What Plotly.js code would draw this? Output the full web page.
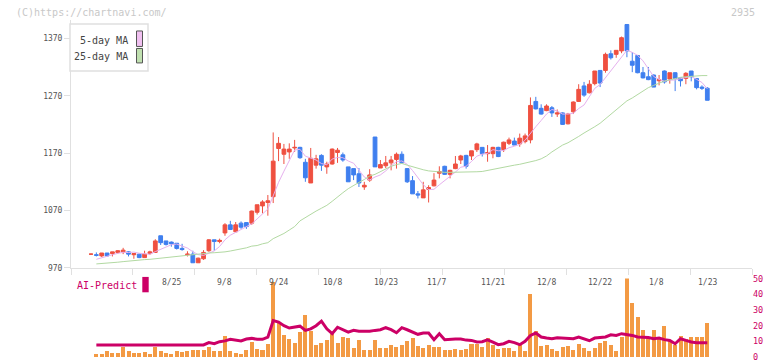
<!DOCTYPE html>
<html><head><meta charset="utf-8">
<script src="https://cdn.plot.ly/plotly-3.0.1.min.js"></script>
<style>html,body{margin:0;padding:0;background:#fff;}#chart{width:772px;height:361px;}</style>
</head><body><div id="chart"></div>
<script>
// ---- data ----
const openP = [994,993,991,996,995,997,998,998,993,994,
988,995,997,1026,1017,1015,1013,1004,993,994,
979,986,1000,1019,1016,1031,1045,1033,1048,1049,
1048,1067,1078,1084,1094,1178,1168,1172,1179,1180,
1154,1118,1149,1166,1146,1151,1171,1167,1146,1143,
1134,1111,1123,1198,1144,1148,1153,1159,1168,1143,
1122,1099,1092,1107,1113,1135,1147,1133,1143,1158,
1166,1165,1176,1180,1169,1169,1180,1176,1187,1191,
1186,1190,1193,1260,1248,1244,1249,1238,1240,1221,
1242,1260,1287,1275,1291,1314,1314,1343,1342,1348,
1394,1330,1340,1310,1303,1306,1296,1313,1299,1310,
1301,1300,1313,1300,1285,1283];
const highP = [995,997,996,996,998,1001,1005,999,995,995,
1000,1000,1020,1026,1017,1016,1013,1012,999,1000,
988,1001,1020,1019,1021,1048,1052,1050,1051,1049,
1070,1080,1088,1097,1206,1198,1186,1187,1193,1181,
1160,1179,1167,1168,1155,1178,1179,1171,1146,1143,
1144,1120,1142,1198,1158,1165,1165,1171,1173,1144,
1130,1104,1120,1114,1135,1147,1148,1141,1165,1167,
1167,1174,1188,1180,1184,1181,1181,1190,1197,1197,
1204,1204,1267,1268,1255,1255,1252,1246,1241,1240,
1260,1290,1294,1297,1313,1314,1345,1349,1349,1373,
1394,1346,1341,1320,1320,1307,1306,1314,1310,1311,
1301,1311,1313,1300,1288,1285];
const lowP = [993,990,989,990,990,995,994,990,986,987,
988,993,996,1010,1009,1007,1002,1000,990,979,
979,984,998,1000,1013,1026,1036,1031,1038,1038,
1045,1063,1065,1061,1083,1156,1151,1160,1172,1160,
1120,1118,1143,1139,1134,1150,1153,1155,1120,1123,
1111,1106,1120,1146,1144,1144,1140,1143,1152,1118,
1099,1091,1092,1084,1112,1126,1132,1126,1142,1151,
1143,1158,1172,1164,1155,1161,1163,1172,1184,1184,
1181,1187,1187,1246,1237,1243,1233,1233,1219,1220,
1238,1259,1268,1274,1288,1285,1310,1333,1336,1344,
1337,1311,1309,1300,1297,1285,1288,1291,1291,1278,
1286,1290,1295,1281,1280,1262];
const closeP = [994,992,996,991,998,1000,1001,994,995,988,
994,998,1017,1014,1011,1012,1004,1002,994,979,
987,997,1019,1016,1018,1045,1037,1045,1041,1042,
1069,1080,1085,1087,1156,1187,1177,1177,1180,1162,
1127,1161,1160,1149,1151,1177,1175,1158,1120,1132,
1118,1114,1132,1146,1150,1153,1158,1168,1153,1120,
1099,1097,1106,1110,1123,1138,1133,1140,1151,1165,
1147,1174,1186,1169,1171,1180,1164,1189,1193,1184,
1196,1200,1253,1247,1238,1252,1240,1240,1220,1238,
1259,1281,1271,1290,1313,1292,1342,1336,1349,1371,
1348,1323,1310,1301,1298,1285,1298,1294,1310,1300,
1296,1309,1303,1284,1283,1262];
const ma5 = [null,985,988,990.5,993,995.4,997.2,996.8,997.6,995.6,
994.4,993.8,998.4,1002.2,1006.8,1010.4,1011.6,1008.6,1004.6,998.2,
993.2,991.8,995.2,999.6,1007.4,1019,1027,1032.2,1037.2,1042,
1046.8,1055.4,1063.4,1072.6,1095.4,1119,1138.4,1156.8,1175.4,1176.6,
1164.6,1161.4,1158,1151.8,1149.6,1159.6,1162.4,1162,1156.2,1152.4,
1140.6,1128.4,1123.2,1128.4,1132,1139,1147.8,1155,1156.4,1150.4,
1139.6,1127.4,1115,1106.4,1107,1114.8,1122,1128.8,1137,1145.4,
1147.2,1155.4,1164.6,1168.2,1169.4,1176,1174,1174.6,1179.4,1182,
1185.2,1192.4,1205.2,1216,1226.8,1238,1246,1243.4,1238,1238,
1239.4,1247.6,1253.8,1267.8,1282.8,1289.4,1301.6,1314.6,1326.4,1338,
1349.2,1345.4,1340.2,1330.6,1316,1303.4,1298.4,1295.2,1297,1297.4,
1299.6,1301.8,1303.6,1298.4,1293,1282];
const ma25 = [null,977,977.5,978,979,980,981,982,983.5,984,
984.5,985,986,987,988.5,989.5,991,992,993,994,
994.5,995.5,996,996.5,997,998,999.5,1001,1003,1005,
1008,1009,1012,1014,1021,1025,1030,1036,1042,1052,
1058,1063,1069,1074,1079,1086,1094,1101,1108,1114,
1119,1124,1130,1133,1138,1142,1147,1150,1152,1149,
1146,1143,1141,1139,1138,1137,1136.5,1136.5,1136.5,1136.5,
1136.5,1137,1137.5,1138,1140,1141.5,1144,1145.5,1147,1149,
1150.5,1152.5,1155,1157,1160,1165,1172,1178,1184,1188,
1193,1199,1205,1210,1216,1222,1230,1237,1245,1253,
1261,1266,1272,1278,1284,1288,1292,1295.5,1297.5,1300,
1302,1303,1304,1305,1305,1305];
const aiBars = [null,2.2,2.2,4.1,2.9,2.9,6.6,4.1,2.9,2.9,
3.5,2.2,6.6,4.1,2.9,2.2,4.1,3.5,4.1,4.7,
4.7,4.5,6.6,4.1,4.1,13.6,4.1,2.9,2.2,4.7,
9.8,5.4,4.7,8.5,47.6,21.8,14.2,11.7,9.2,16.1,
26.9,16.7,7.8,9.2,11.1,14.9,9.2,13,12.4,6,
11.1,4.7,4.7,11.1,6,6,7.8,6.6,7.8,10.5,
12.4,7.2,6,7.8,6.6,6.6,4.7,4.7,5.4,4.7,
5.4,8.5,8.5,6.6,12.4,7.8,5.4,6,6,4.1,
8.5,4.1,40.2,16.3,7.2,7.8,5.4,4.1,6.6,7.2,
4.7,8.5,6,4.1,6,9.2,10.5,7.8,4.1,13,
50.3,34.5,25.6,17.4,13,17.4,12.4,19.9,10.5,7.8,
13.6,11.7,13,13,13,21.8];
const aiLine = [null,7.7,7.7,7.7,7.7,7.7,7.7,7.7,7.7,7.7,
7.7,7.7,7.7,7.7,7.7,7.7,7.7,7.7,7.7,7.7,
7.7,7.7,9.2,8.5,9.8,10.3,11.3,10.9,10.3,11.5,
11.9,11.3,11.3,12.7,23.3,22.3,20,18.5,19.1,19.7,
17,18,20,22.9,18,14.9,19,17.5,15.9,17,
16.4,16.4,16.4,17,17.4,18.7,17.5,15.5,18.7,17.4,
15.9,14.5,15.3,15.3,11.1,14.9,11.1,11.5,11.5,11.5,
10.8,10.6,9.6,9.8,11,9.5,7.9,8.5,10,9.2,
7.9,10,13.8,15.3,12.8,12.1,11.7,12.3,12.1,11.9,
11.7,12.8,11.5,10.4,12.1,12.5,12.8,14.2,13.8,14.9,
14.5,13.8,12.8,12.8,12.4,11.7,12.1,11.1,10.6,8.5,
11.7,10.6,9.6,9.2,9.2,9.2];
const dateLabels = ['8/25','9/8','9/24','10/8','10/23','11/7','11/21','12/8','12/22','1/8','1/23'];
const dateLabelPos = [15,25,35,45,55,64.5,75,85,95,105.5,115];
const priceTicks = [970,1070,1170,1270,1370];
const aiTicks = [0,10,20,30,40,50];

// ---- layout helpers (pixel -> paper) ----
const L = 71, R = 752, T = 20, B = 358.5;
const px = x => (x - L) / (R - L);
const py = y => (B - y) / (B - T);
const idx = closeP.map((_, i) => i);
const xMin = -3.73, xMax = 123.34;
const xTicks = [];
for (let k = 0; k <= 11; k++) xTicks.push(xMin + k * (xMax - xMin) / 11);

const RED = '#ef5040', BLUE = '#3f7fef';
const FONT = 'DejaVu Sans Mono';

const traces = [
  {type:'candlestick', x: idx, open: openP, high: highP, low: lowP, close: closeP,
   xaxis:'x', yaxis:'y', whiskerwidth: 0, hoverinfo:'skip',
   increasing:{line:{color:RED, width:1}, fillcolor:RED},
   decreasing:{line:{color:BLUE, width:1}, fillcolor:BLUE}},
  {type:'scatter', mode:'lines', x: idx, y: ma5, xaxis:'x', yaxis:'y',
   line:{color:'#e6b0ee', width:1}, hoverinfo:'skip'},
  {type:'scatter', mode:'lines', x: idx, y: ma25, xaxis:'x', yaxis:'y',
   line:{color:'#b2d9a2', width:1}, hoverinfo:'skip'},
  {type:'bar', x: idx, y: aiBars, xaxis:'x2', yaxis:'y2', width: 0.75,
   marker:{color:'#f39a44', line:{width:0}}, hoverinfo:'skip'},
  {type:'scatter', mode:'lines', x: idx, y: aiLine, xaxis:'x2', yaxis:'y2',
   line:{color:'#cc0066', width:3}, hoverinfo:'skip'}
];

const annotations = [
  {xref:'paper', yref:'paper', x:px(14), y:py(12.5), xanchor:'left', yanchor:'middle',
   text:'(C)https://chartnavi.com/', showarrow:false, font:{family:FONT, size:10, color:'#c8c8c8'}},
  {xref:'paper', yref:'paper', x:px(757), y:py(12.5), xanchor:'right', yanchor:'middle',
   text:'2935', showarrow:false, font:{family:FONT, size:10, color:'#c8c8c8'}},
  {xref:'paper', yref:'paper', x:px(130), y:py(41), xanchor:'right', yanchor:'middle',
   text:'5-day MA', showarrow:false, font:{family:FONT, size:10, color:'#444'}},
  {xref:'paper', yref:'paper', x:px(130), y:py(57), xanchor:'right', yanchor:'middle',
   text:'25-day MA', showarrow:false, font:{family:FONT, size:10, color:'#444'}},
  {xref:'paper', yref:'paper', x:px(75), y:py(286), xanchor:'left', yanchor:'middle',
   text:'AI-Predict', showarrow:false, font:{family:FONT, size:10, color:'#cc0066'}}
];
dateLabels.forEach((t, k) => annotations.push({
  xref:'x', yref:'paper', x: dateLabelPos[k], y: py(282.5), xanchor:'center', yanchor:'middle',
  text: t, showarrow:false, font:{family:FONT, size:8, color:'#555'}}));

const shapes = [
  {type:'rect', xref:'paper', yref:'paper', x0:px(70), x1:px(148), y0:py(71), y1:py(24),
   line:{color:'#e0e0e0', width:1.5}, fillcolor:'#fff', layer:'above'},
  {type:'rect', xref:'paper', yref:'paper', x0:px(136.5), x1:px(142.5), y0:py(46.5), y1:py(31),
   line:{color:'#555', width:1}, fillcolor:'#f0c0f0', layer:'above'},
  {type:'rect', xref:'paper', yref:'paper', x0:px(136.5), x1:px(142.5), y0:py(63), y1:py(48.5),
   line:{color:'#555', width:1}, fillcolor:'#c0e0b0', layer:'above'},
  {type:'rect', xref:'paper', yref:'paper', x0:px(142.3), x1:px(148.7), y0:py(292.7), y1:py(277.3),
   line:{width:0}, fillcolor:'#cc0066', layer:'above'}
];

const layout = {
  width:772, height:361,
  margin:{l:L, r:772-R, t:T, b:361-B, pad:0},
  paper_bgcolor:'#fff', plot_bgcolor:'#fff',
  showlegend:false, hovermode:false,
  boxgap:0.3, boxgroupgap:0, bargap:0,
  font:{family:FONT, size:8, color:'#555'},
  xaxis:{domain:[0,1], anchor:'y', range:[xMin, xMax], tickmode:'array', tickvals:xTicks,
    showticklabels:false, ticks:'outside', ticklen:6, tickcolor:'#e0e0e0', tickwidth:1,
    showline:true, linecolor:'#e0e0e0', linewidth:1, showgrid:false, zeroline:false,
    rangeslider:{visible:false}, fixedrange:true},
  yaxis:{domain:[py(268.3), 1], anchor:'x', range:[970, 970 + (268.3 - T) / 0.575],
    tickmode:'array', tickvals:priceTicks, ticktext:priceTicks.map(String),
    ticks:'outside', ticklen:6, tickcolor:'#e0e0e0', tickwidth:1,
    showline:true, linecolor:'#e0e0e0', linewidth:1, showgrid:false, zeroline:false,
    tickfont:{family:FONT, size:8, color:'#555'}, fixedrange:true},
  xaxis2:{domain:[0,1], anchor:'y2', range:[xMin, xMax], visible:false, fixedrange:true},
  yaxis2:{domain:[0, py(279)], anchor:'x2', range:[-0.6,50], side:'right',
    tickmode:'array', tickvals:aiTicks, ticktext:aiTicks.map(String),
    ticks:'', showline:false, showgrid:false, zeroline:false, ticklabeloverflow:'allow',
    tickfont:{family:FONT, size:8.5, color:'#cc0066'}, fixedrange:true},
  annotations, shapes
};

Plotly.newPlot('chart', traces, layout, {staticPlot:true, displayModeBar:false});
</script>
</body></html>
